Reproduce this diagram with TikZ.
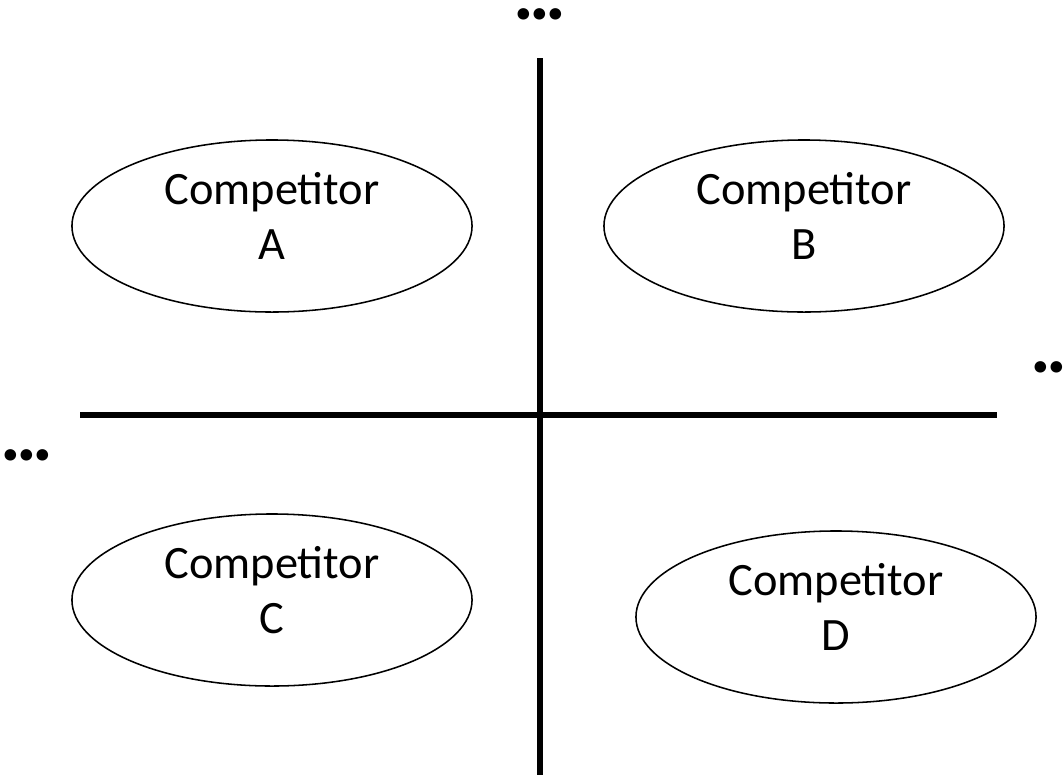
\documentclass[tikz,border=0pt]{standalone}
\usepackage{fontspec}
\setmainfont{Carlito}
\usetikzlibrary{shapes.geometric}
\begin{document}
\begin{tikzpicture}[x=0.025cm, y=-0.025cm, font=\fontsize{33}{39}\selectfont]
    \useasboundingbox (0,0) rectangle (1064,777);
    \tikzset{rival/.style={draw, ellipse, line width=1.1pt, minimum width=10cm, minimum height=4.3cm, align=center, text depth=0.5cm},
             more/.style={anchor=base, font=\fontsize{55}{60}\selectfont\bfseries}}
    % quadrants
    \node[rival] (compA) at (272,226) {Competitor\\A};
    \node[rival] (compB) at (804,226) {Competitor\\B};
    \node[rival] (compC) at (272,600) {Competitor\\C};
    \node[rival] (compD) at (836,617) {Competitor\\D};
    % axes
    \coordinate (top) at (540,58);
    \coordinate (bottom) at (540,775);
    \coordinate (left) at (80,415);
    \coordinate (right) at (997,415);
    \draw[line width=4.3pt] (top) -- (bottom);
    \draw[line width=4.3pt] (left) -- (right);
    % axis ends
    \node[more] (dotsTop) at (540,19) {.\kern-0.06em.\kern-0.06em.};
    \node[more] (dotsRight) at (1057,372) {.\kern-0.06em.\kern-0.06em.};
    \node[more] (dotsLeft) at (27,460) {.\kern-0.06em.\kern-0.06em.};
\end{tikzpicture}
\end{document}
